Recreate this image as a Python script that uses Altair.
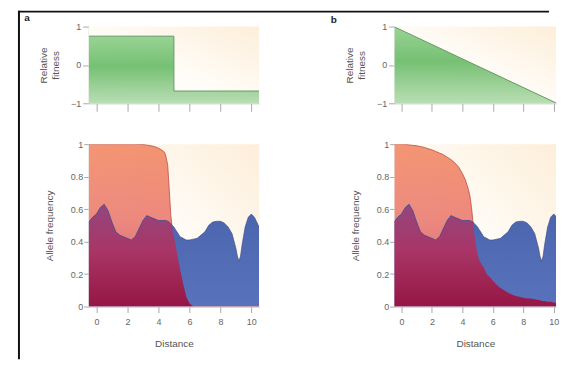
import altair as alt
import pandas as pd

# ---- data ----
distance = [-0.5, -0.25, 0, 0.25, 0.5, 0.75, 1.0, 1.25, 1.5, 1.75, 2.0, 2.25, 2.5, 2.75,
            3.0, 3.25, 3.5, 3.75, 4.0, 4.2, 4.4, 4.5, 4.6, 4.7, 4.8, 4.9, 5.0, 5.1, 5.2,
            5.4, 5.6, 5.8, 6.0, 6.25, 6.5, 6.75, 7.0, 7.25, 7.5, 7.75, 8.0, 8.25, 8.5,
            8.75, 9.0, 9.1, 9.2, 9.3, 9.4, 9.6, 9.8, 10.0, 10.2, 10.3, 10.5]
blue_freq = [0.52, 0.55, 0.57, 0.61, 0.63, 0.59, 0.52, 0.46, 0.44, 0.43, 0.42, 0.41, 0.43, 0.48,
             0.53, 0.56, 0.55, 0.54, 0.53, 0.53, 0.53, 0.53, 0.525, 0.52, 0.51, 0.50, 0.49, 0.475, 0.46,
             0.43, 0.42, 0.41, 0.41, 0.415, 0.42, 0.44, 0.46, 0.50, 0.52, 0.525, 0.525, 0.515, 0.49,
             0.45, 0.36, 0.31, 0.28, 0.31, 0.38, 0.49, 0.55, 0.57, 0.55, 0.53, 0.49]
red_freq_a = [1, 1, 1, 1, 1, 1, 1, 1, 1, 1, 1, 1, 1, 0.999,
              0.998, 0.995, 0.99, 0.985, 0.975, 0.965, 0.95, 0.92, 0.87, 0.72, 0.56, 0.48, 0.43, 0.38, 0.33,
              0.23, 0.14, 0.06, 0.02, 0.0, 0, 0, 0, 0, 0, 0, 0, 0, 0,
              0, 0, 0, 0, 0, 0, 0, 0, 0, 0, 0, 0]
red_freq_b = [1, 1, 1, 0.998, 0.996, 0.993, 0.99, 0.985, 0.98, 0.972, 0.965, 0.955, 0.945, 0.935,
              0.92, 0.905, 0.885, 0.86, 0.82, 0.78, 0.72, 0.68, 0.61, 0.52, 0.44, 0.37, 0.32, 0.29, 0.27,
              0.24, 0.20, 0.18, 0.16, 0.135, 0.115, 0.10, 0.085, 0.075, 0.065, 0.06, 0.055, 0.05, 0.05,
              0.045, 0.04, 0.04, 0.035, 0.035, 0.035, 0.03, 0.03, 0.025, 0.02, 0.02, 0.02]

fit_x_a = [-0.5, 5.0, 5.0, 10.5]
fit_y_a = [0.75, 0.75, -0.68, -0.68]
fit_x_b = [-0.5, 10.2]
fit_y_b = [1.0, -1.0]

x_ticks = [0, 2, 4, 6, 8, 10]
fit_ticks = [-1, 0, 1]
freq_ticks = [0, 0.2, 0.4, 0.6, 0.8, 1]
panel_letters = ["a", "b"]
x_extent_a = [-0.5, 10.5]
x_extent_b = [-0.45, 10.15]
fit_extent = [-1, 1]
freq_extent = [0, 1]

allele = pd.DataFrame({"distance": distance, "blue": blue_freq,
                       "red_a": red_freq_a, "red_b": red_freq_b})
fit_a = pd.DataFrame({"distance": fit_x_a, "fitness": fit_y_a})
fit_b = pd.DataFrame({"distance": fit_x_b, "fitness": fit_y_b})
one = pd.DataFrame({"k": [0]})

WA, WB, HT, HB = 171, 162, 77, 163
FONT = "Liberation Sans"

def grad(stops, x1=0, y1=0, x2=0, y2=1):
    return alt.LinearGradient(gradient="linear", x1=x1, y1=y1, x2=x2, y2=y2,
                              stops=[alt.GradientStop(color=c, offset=o) for o, c in stops])

bg = grad([(0, "#ffffff"), (0.45, "#fffdf9"), (1, "#fdeed9")], x1=0, y1=1, x2=1, y2=0)
green = grad([(0, "#8fd08b"), (0.45, "#6abb68"), (1, "#b3dbad")])
orange = grad([(0, "#ee6a3c"), (0.45, "#e5584a"), (1, "#b8204a")])
blue = grad([(0, "#4a63ad"), (1, "#5873bb")])
overlap = grad([(0, "#944680"), (0.45, "#a83666"), (1, "#961644")])

fscale = alt.Scale(domain=fit_extent, nice=False)
qscale = alt.Scale(domain=freq_extent, nice=False)

ax_x_top = alt.Axis(values=x_ticks, labels=False, title=None, tickSize=8)
ax_x_bot = alt.Axis(values=x_ticks, title="Distance", tickSize=6, labelPadding=5,
                    titlePadding=12, format="~r")
ax_y_fit = alt.Axis(values=fit_ticks, title=["Relative", "fitness"], tickSize=6,
                    labelPadding=2, titlePadding=10, format="~r")
ax_y_freq = alt.Axis(values=freq_ticks, title="Allele frequency", tickSize=5,
                     labelPadding=1, titlePadding=16, format="~r")

def background(xext, xscale, ylo, yhi, xaxis, yscale, yaxis):
    return alt.Chart(one).mark_rect(color=bg).encode(
        x=alt.X(datum=xext[0], type="quantitative", scale=xscale, axis=xaxis),
        x2=alt.datum(xext[1]),
        y=alt.Y(datum=ylo, type="quantitative", scale=yscale, axis=yaxis),
        y2=alt.datum(yhi))

def top_panel(df, xext, width, letter, lx, ly, frame=False):
    xscale = alt.Scale(domain=xext, nice=False, zero=False)
    back = background(xext, xscale, fit_extent[0], fit_extent[1], ax_x_top, fscale, ax_y_fit)
    area = alt.Chart(df).mark_area(
        color=green, opacity=0.92, clip=True,
        line={"color": "#679866", "strokeWidth": 1}
    ).encode(x=alt.X("distance:Q", scale=xscale, axis=ax_x_top),
             y=alt.Y("fitness:Q", scale=fscale, axis=ax_y_fit),
             y2=alt.datum(fit_extent[0]))
    lab = alt.Chart(one).mark_text(text=letter, font=FONT, fontSize=10, fontWeight="bold",
                                   color="#222").encode(x=alt.value(lx), y=alt.value(ly))
    layers = [back, area, lab]
    if frame:
        top_line = alt.Chart(one).mark_rule(color="#111", strokeWidth=2).encode(
            x=alt.value(-71), x2=alt.value(462), y=alt.value(-15))
        left_line = alt.Chart(one).mark_rule(color="#111", strokeWidth=2).encode(
            x=alt.value(-70), y=alt.value(-16), y2=alt.value(334))
        layers += [top_line, left_line]
    return alt.layer(*layers).properties(width=width, height=HT)

def yq(field):
    return alt.Y(field, type="quantitative", scale=qscale, axis=ax_y_freq)

def bottom_panel(red_col, xext, width):
    xscale = alt.Scale(domain=xext, nice=False, zero=False)
    back = background(xext, xscale, freq_extent[0], freq_extent[1], ax_x_bot, qscale, ax_y_freq)
    base = alt.Chart(allele).encode(x=alt.X("distance:Q", scale=xscale, axis=ax_x_bot))
    o = base.mark_area(color=orange, clip=True,
                       line={"color": "#bc4e44", "strokeWidth": 0.8}).encode(y=yq(red_col))
    b = base.mark_area(color=blue, clip=True).encode(y=yq("blue"))
    ov = base.transform_calculate(ov=f"min(datum.{red_col}, datum.blue)").mark_area(
        color=overlap, clip=True).encode(y=yq("ov"))
    bl = base.mark_line(color="#3e4f8c", strokeWidth=0.8, opacity=0.8, clip=True).encode(
        y=yq("blue"))
    return alt.layer(back, o, b, ov, bl).properties(width=width, height=HB)

col_a = alt.vconcat(top_panel(fit_a, x_extent_a, WA, panel_letters[0], -62, -9, frame=True),
                    bottom_panel("red_a", x_extent_a, WA), spacing=41, bounds="flush")
col_b = alt.vconcat(top_panel(fit_b, x_extent_b, WB, panel_letters[1], -61, -7),
                    bottom_panel("red_b", x_extent_b, WB), spacing=41, bounds="flush")

chart = alt.hconcat(col_a, col_b, spacing=307, bounds="flush").properties(
    padding={"left": 8, "top": 0, "right": 0, "bottom": 0}
).configure_axis(
    labelFont=FONT, labelFontSize=9, labelColor="#666",
    titleFont=FONT, titleFontSize=10, titleColor="#555", titleFontWeight="normal",
    tickColor="#aaa", domainColor="#bbb", grid=False
).configure_view(stroke="transparent")

chart.save("out.html", embed_options={"renderer": "svg", "actions": False})
